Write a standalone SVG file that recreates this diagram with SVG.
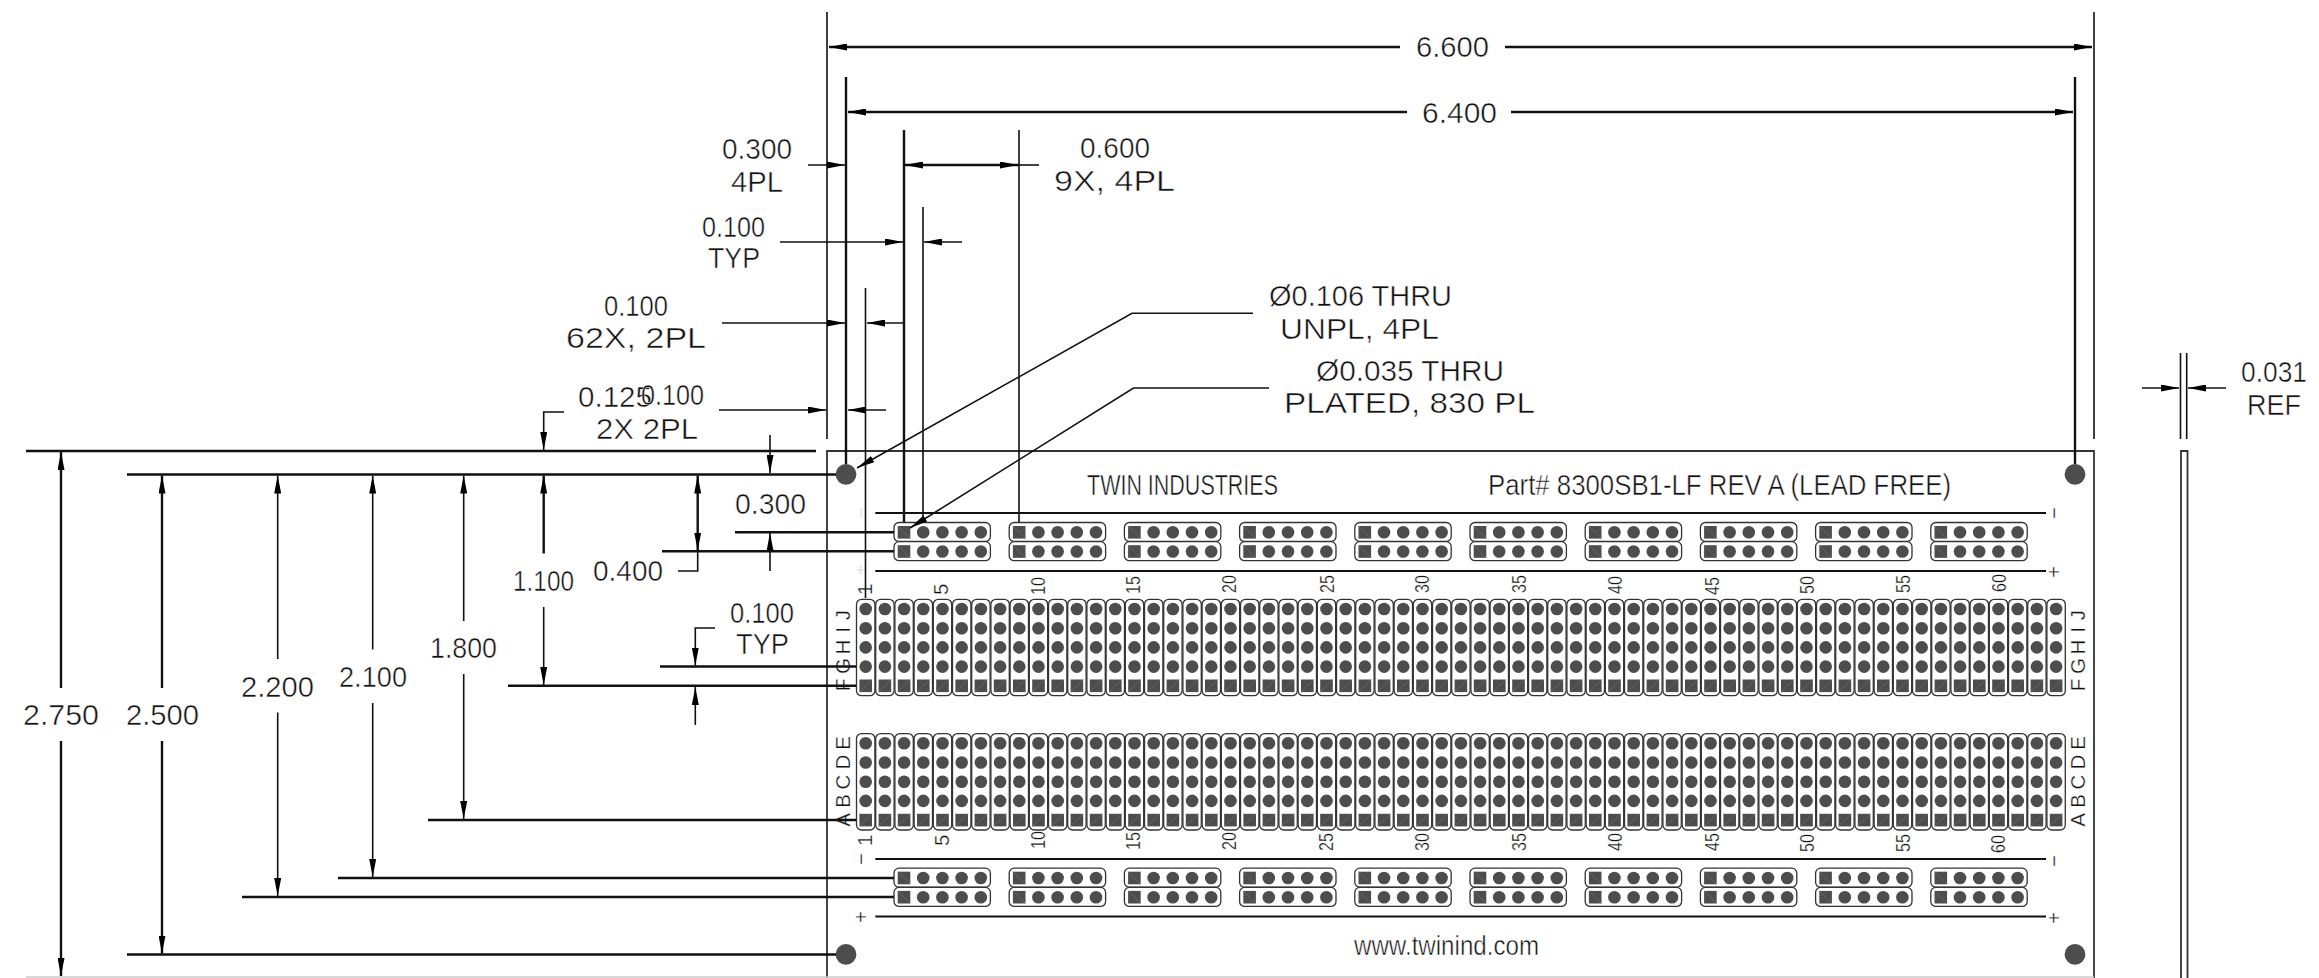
<svg xmlns="http://www.w3.org/2000/svg" xmlns:xlink="http://www.w3.org/1999/xlink" width="2319" height="978" viewBox="0 0 2319 978">
<style>
text{font-family:"Liberation Sans",Arial,sans-serif;fill:#111;font-weight:400}
.d{font-size:29.500px;stroke:#fff;stroke-width:.5px}
.n{font-size:20.500px;stroke:#fff;stroke-width:.3px}
.l{font-size:20.500px;text-anchor:middle;stroke:#fff;stroke-width:.3px}
.t{font-size:29.500px;stroke:#fff;stroke-width:.5px}
.ln{fill:none;stroke:#111;stroke-width:1.6}
.hv{fill:none;stroke:#111;stroke-width:2.4}
.a{marker-end:url(#arr)}
.b{marker-end:url(#arr);marker-start:url(#arr)}
.edge{fill:none;stroke:#333;stroke-width:1.8}
.box{fill:#fff;stroke:#333;stroke-width:1.3}
.h{fill:#4d4d4d}
.dg{stroke:#777;stroke-width:.6}
</style>
<defs>
<marker id="arr" markerUnits="userSpaceOnUse" markerWidth="18" markerHeight="7" viewBox="0 0 18 7" refX="18" refY="3.5" orient="auto-start-reverse"><path d="M0 0L18 3.5L0 7z" fill="#000"/></marker>
<g id="col"><rect class="box" x="-9.2" y="-9.7" width="18.4" height="96.4" rx="5"/><circle class="h" r="6.3"/><circle class="h" cy="19.2" r="6.3"/><circle class="h" cy="38.4" r="6.3"/><circle class="h" cy="57.6" r="6.3"/><rect class="h" x="-6.3" y="70.5" width="12.6" height="12.6"/><path class="dg" d="M-6.3 83.1L6.3 70.5"/></g>
<g id="c5"><use xlink:href="#col" href="#col"/><use href="#col" x="19.2"/><use href="#col" x="38.4"/><use href="#col" x="57.6"/><use href="#col" x="76.8"/></g>
<g id="c20"><use href="#c5"/><use href="#c5" x="96"/><use href="#c5" x="192"/><use href="#c5" x="288"/></g>
<g id="block"><use href="#c20"/><use href="#c20" x="384"/><use href="#c20" x="768"/><use href="#col" x="1152"/><use href="#col" x="1171.2"/><use href="#col" x="1190.4"/></g>
<g id="row"><rect class="box" x="-10" y="-9.8" width="96.4" height="19" rx="5"/><rect class="h" x="-6.3" y="-6.3" width="12.6" height="12.6"/><path class="dg" d="M-6.3 -6.3L6.3 6.3"/><circle class="h" cx="19.2" r="6.3"/><circle class="h" cx="38.4" r="6.3"/><circle class="h" cx="57.6" r="6.3"/><circle class="h" cx="76.8" r="6.3"/></g>
<g id="pair"><use href="#row"/><use href="#row" y="19.2"/></g>
<g id="strips"><use href="#pair"/><use href="#pair" x="115.2"/><use href="#pair" x="230.4"/><use href="#pair" x="345.6"/><use href="#pair" x="460.8"/><use href="#pair" x="576"/><use href="#pair" x="691.2"/><use href="#pair" x="806.4"/><use href="#pair" x="921.6"/><use href="#pair" x="1036.8"/></g>
</defs>
<rect width="2319" height="978" fill="#fff"/>

<g id="board">
<path class="edge" d="M827 978V451H2094V978"/>
<path d="M26 977H2094" stroke="#ccc" stroke-width="1.5" fill="none"/>
<path class="hv" d="M875.3 513H2046M875.3 571H2046M875.3 859H2046M875.3 916.5H2046" style="stroke-width:1.8"/>
<use href="#strips" x="904" y="532.3"/>
<use href="#strips" x="904" y="878"/>
<use href="#block" x="865.7" y="609"/>
<use href="#block" x="865.7" y="743.3"/>
<circle class="h" cx="846" cy="474.3" r="10.4"/>
<circle class="h" cx="2075" cy="474.3" r="10.4"/>
<circle class="h" cx="846" cy="954.4" r="10.4"/>
<circle class="h" cx="2075" cy="954.4" r="10.4"/>
<text class="t" x="1087" y="495" textLength="191" lengthAdjust="spacingAndGlyphs">TWIN INDUSTRIES</text>
<text class="t" x="1488" y="495" textLength="463" lengthAdjust="spacingAndGlyphs">Part# 8300SB1-LF REV A (LEAD FREE)</text>
<text class="t" x="1354" y="955" textLength="185" lengthAdjust="spacingAndGlyphs" style="font-size:27px">www.twinind.com</text>
</g>

<g id="board-labels">
<text class="l" transform="rotate(-90 868 513)" x="868" y="513" style="fill:#ddd">−</text>
<text class="l" transform="rotate(-90 868 570)" x="868" y="570" style="fill:#ddd">+</text>
<text class="l" transform="rotate(-90 2061 513)" x="2061" y="513">−</text>
<text class="l" transform="rotate(-90 2061 572)" x="2061" y="572">+</text>
<text class="l" transform="rotate(-90 868 859)" x="868" y="859">−</text>
<text class="l" transform="rotate(-90 868 917)" x="868" y="917">+</text>
<text class="l" transform="rotate(-90 2061 861)" x="2061" y="861">−</text>
<text class="l" transform="rotate(-90 2061 918)" x="2061" y="918">+</text>

<text class="n" transform="rotate(-90 872 595)" x="872" y="595">1</text>
<text class="n" transform="rotate(-90 948 595)" x="948" y="595">5</text>
<text class="n" transform="rotate(-90 1045 595)" x="1045" y="595" textLength="18" lengthAdjust="spacingAndGlyphs">10</text>
<text class="n" transform="rotate(-90 1140 594)" x="1140" y="594" textLength="18" lengthAdjust="spacingAndGlyphs">15</text>
<text class="n" transform="rotate(-90 1236 593)" x="1236" y="593" textLength="18" lengthAdjust="spacingAndGlyphs">20</text>
<text class="n" transform="rotate(-90 1334 593)" x="1334" y="593" textLength="18" lengthAdjust="spacingAndGlyphs">25</text>
<text class="n" transform="rotate(-90 1429 593)" x="1429" y="593" textLength="18" lengthAdjust="spacingAndGlyphs">30</text>
<text class="n" transform="rotate(-90 1526 593)" x="1526" y="593" textLength="18" lengthAdjust="spacingAndGlyphs">35</text>
<text class="n" transform="rotate(-90 1622 594)" x="1622" y="594" textLength="18" lengthAdjust="spacingAndGlyphs">40</text>
<text class="n" transform="rotate(-90 1719 595)" x="1719" y="595" textLength="18" lengthAdjust="spacingAndGlyphs">45</text>
<text class="n" transform="rotate(-90 1814 594)" x="1814" y="594" textLength="18" lengthAdjust="spacingAndGlyphs">50</text>
<text class="n" transform="rotate(-90 1910 593)" x="1910" y="593" textLength="18" lengthAdjust="spacingAndGlyphs">55</text>
<text class="n" transform="rotate(-90 2006 592)" x="2006" y="592" textLength="18" lengthAdjust="spacingAndGlyphs">60</text>

<text class="n" transform="rotate(-90 872 846)" x="872" y="846">1</text>
<text class="n" transform="rotate(-90 949 846)" x="949" y="846">5</text>
<text class="n" transform="rotate(-90 1045 849)" x="1045" y="849" textLength="18" lengthAdjust="spacingAndGlyphs">10</text>
<text class="n" transform="rotate(-90 1140 850)" x="1140" y="850" textLength="18" lengthAdjust="spacingAndGlyphs">15</text>
<text class="n" transform="rotate(-90 1236 850)" x="1236" y="850" textLength="18" lengthAdjust="spacingAndGlyphs">20</text>
<text class="n" transform="rotate(-90 1333 851)" x="1333" y="851" textLength="18" lengthAdjust="spacingAndGlyphs">25</text>
<text class="n" transform="rotate(-90 1429 851)" x="1429" y="851" textLength="18" lengthAdjust="spacingAndGlyphs">30</text>
<text class="n" transform="rotate(-90 1526 851)" x="1526" y="851" textLength="18" lengthAdjust="spacingAndGlyphs">35</text>
<text class="n" transform="rotate(-90 1622 851)" x="1622" y="851" textLength="18" lengthAdjust="spacingAndGlyphs">40</text>
<text class="n" transform="rotate(-90 1719 851)" x="1719" y="851" textLength="18" lengthAdjust="spacingAndGlyphs">45</text>
<text class="n" transform="rotate(-90 1814 852)" x="1814" y="852" textLength="18" lengthAdjust="spacingAndGlyphs">50</text>
<text class="n" transform="rotate(-90 1910 852)" x="1910" y="852" textLength="18" lengthAdjust="spacingAndGlyphs">55</text>
<text class="n" transform="rotate(-90 2005 853)" x="2005" y="853" textLength="18" lengthAdjust="spacingAndGlyphs">60</text>

<text class="l" transform="rotate(-90 850 685)" x="850" y="685">F</text>
<text class="l" transform="rotate(-90 850 666)" x="850" y="666">G</text>
<text class="l" transform="rotate(-90 850 647)" x="850" y="647">H</text>
<text class="l" transform="rotate(-90 850 630)" x="850" y="630">I</text>
<text class="l" transform="rotate(-90 850 615)" x="850" y="615">J</text>
<text class="l" transform="rotate(-90 850 820)" x="850" y="820">A</text>
<text class="l" transform="rotate(-90 850 801)" x="850" y="801">B</text>
<text class="l" transform="rotate(-90 850 782)" x="850" y="782">C</text>
<text class="l" transform="rotate(-90 850 762)" x="850" y="762">D</text>
<text class="l" transform="rotate(-90 850 743)" x="850" y="743">E</text>
<text class="l" transform="rotate(-90 2085 685)" x="2085" y="685">F</text>
<text class="l" transform="rotate(-90 2085 666)" x="2085" y="666">G</text>
<text class="l" transform="rotate(-90 2085 647)" x="2085" y="647">H</text>
<text class="l" transform="rotate(-90 2085 630)" x="2085" y="630">I</text>
<text class="l" transform="rotate(-90 2085 615)" x="2085" y="615">J</text>
<text class="l" transform="rotate(-90 2085 820)" x="2085" y="820">A</text>
<text class="l" transform="rotate(-90 2085 801)" x="2085" y="801">B</text>
<text class="l" transform="rotate(-90 2085 782)" x="2085" y="782">C</text>
<text class="l" transform="rotate(-90 2085 762)" x="2085" y="762">D</text>
<text class="l" transform="rotate(-90 2085 743)" x="2085" y="743">E</text>
</g>

<g id="side-view">
<path class="edge" d="M2181 978V451H2187.5V978"/>
</g>

<g id="connectors">
<path class="ln" d="M827 12V439M2094 12V439M865.5 288V598M923 207V522M1019 130V522M2180.5 353V439M2186.7 353V439"/>
<path class="hv" d="M846 77V464M904 130V522M2075 77V464"/>
<path class="hv" d="M26 451H816M127 474.5H836M127 954.5H836M242 897H894M338 878H894M428 820H856M508 685.8H856M660 666.5H856M662 551.3H894M735 532.3H894"/>

<path class="hv a" d="M1400 47H829"/>
<path class="hv a" d="M1505 47H2092"/>
<path class="hv a" d="M1407 112H848"/>
<path class="hv a" d="M1511 112H2073"/>
<path class="ln a" d="M808 165H845"/>
<path class="hv b" d="M905 165H1018"/>
<path class="ln" d="M1018 165H1039"/>
<path class="ln a" d="M780 242H903"/>
<path class="ln a" d="M962 242H924"/>
<path class="ln a" d="M722 323H845"/>
<path class="ln a" d="M904 323H867"/>
<path class="ln a" d="M719 410H826"/>
<path class="ln a" d="M886 410H848"/>
<path class="ln a" d="M1253 313.3H1132L857 468"/>
<path class="ln a" d="M1269 388H1133.500L910 528"/>
<path class="ln a" d="M2142 388H2179"/>
<path class="ln a" d="M2226 388H2188"/>

<path class="ln a" d="M564 412H543.700V450"/>
<path class="ln a" d="M770 435V473"/>
<path class="hv a" d="M61 688V452"/>
<path class="hv a" d="M61 741V976"/>
<path class="hv a" d="M162 688V475.500"/>
<path class="hv a" d="M162 741V953.500"/>
<path class="ln a" d="M277.700 659V475.500"/>
<path class="ln a" d="M277.700 712.500V896"/>
<path class="ln a" d="M372.700 649.500V475.500"/>
<path class="ln a" d="M372.700 703V877"/>
<path class="ln a" d="M463.700 621V475.500"/>
<path class="ln a" d="M463.700 674V819"/>
<path class="hv a" d="M543.700 553.500V475.500"/>
<path class="ln a" d="M543.700 607V685"/>
<path class="hv b" d="M697.700 475.500V550.500"/>
<path class="ln" d="M697.700 551V571H678"/>
<path class="ln a" d="M770 571V533"/>
<path class="ln a" d="M715 628H695.300V665.500"/>
<path class="ln a" d="M695.300 725V687"/>
</g>

<g id="dimension-labels">
<text class="d" x="1416" y="57" textLength="73" lengthAdjust="spacingAndGlyphs">6.600</text>
<text class="d" x="1422" y="123" textLength="75" lengthAdjust="spacingAndGlyphs">6.400</text>
<text class="d" x="722" y="159" textLength="70" lengthAdjust="spacingAndGlyphs">0.300</text>
<text class="d" x="731" y="192" textLength="52" lengthAdjust="spacingAndGlyphs">4PL</text>
<text class="d" x="1080" y="158" textLength="70" lengthAdjust="spacingAndGlyphs">0.600</text>
<text class="d" x="1054" y="191" textLength="121" lengthAdjust="spacingAndGlyphs">9X, 4PL</text>
<text class="d" x="702" y="237" textLength="63" lengthAdjust="spacingAndGlyphs">0.100</text>
<text class="d" x="708" y="268" textLength="52" lengthAdjust="spacingAndGlyphs">TYP</text>
<text class="d" x="604" y="316" textLength="64" lengthAdjust="spacingAndGlyphs">0.100</text>
<text class="d" x="566" y="348" textLength="140" lengthAdjust="spacingAndGlyphs">62X, 2PL</text>
<text class="d" x="578" y="407" textLength="74" lengthAdjust="spacingAndGlyphs">0.125</text>
<text class="d" x="641" y="405" textLength="63" lengthAdjust="spacingAndGlyphs">0.100</text>
<text class="d" x="596" y="439" textLength="102" lengthAdjust="spacingAndGlyphs">2X 2PL</text>
<text class="d" x="1269" y="306" textLength="183" lengthAdjust="spacingAndGlyphs">Ø0.106 THRU</text>
<text class="d" x="1280" y="339" textLength="159" lengthAdjust="spacingAndGlyphs">UNPL, 4PL</text>
<text class="d" x="1316" y="381" textLength="188" lengthAdjust="spacingAndGlyphs">Ø0.035 THRU</text>
<text class="d" x="1284" y="413" textLength="251" lengthAdjust="spacingAndGlyphs">PLATED, 830 PL</text>
<text class="d" x="2241" y="382" textLength="66" lengthAdjust="spacingAndGlyphs">0.031</text>
<text class="d" x="2247" y="415" textLength="54" lengthAdjust="spacingAndGlyphs">REF</text>
<text class="d" x="23" y="725" textLength="76" lengthAdjust="spacingAndGlyphs">2.750</text>
<text class="d" x="126" y="725" textLength="73" lengthAdjust="spacingAndGlyphs">2.500</text>
<text class="d" x="241" y="697" textLength="73" lengthAdjust="spacingAndGlyphs">2.200</text>
<text class="d" x="339" y="687" textLength="68" lengthAdjust="spacingAndGlyphs">2.100</text>
<text class="d" x="430" y="658" textLength="67" lengthAdjust="spacingAndGlyphs">1.800</text>
<text class="d" x="513" y="591" textLength="61" lengthAdjust="spacingAndGlyphs">1.100</text>
<text class="d" x="593" y="581" textLength="70" lengthAdjust="spacingAndGlyphs">0.400</text>
<text class="d" x="735" y="514" textLength="71" lengthAdjust="spacingAndGlyphs">0.300</text>
<text class="d" x="730" y="623" textLength="64" lengthAdjust="spacingAndGlyphs">0.100</text>
<text class="d" x="736" y="654" textLength="53" lengthAdjust="spacingAndGlyphs">TYP</text>
</g>
</svg>
